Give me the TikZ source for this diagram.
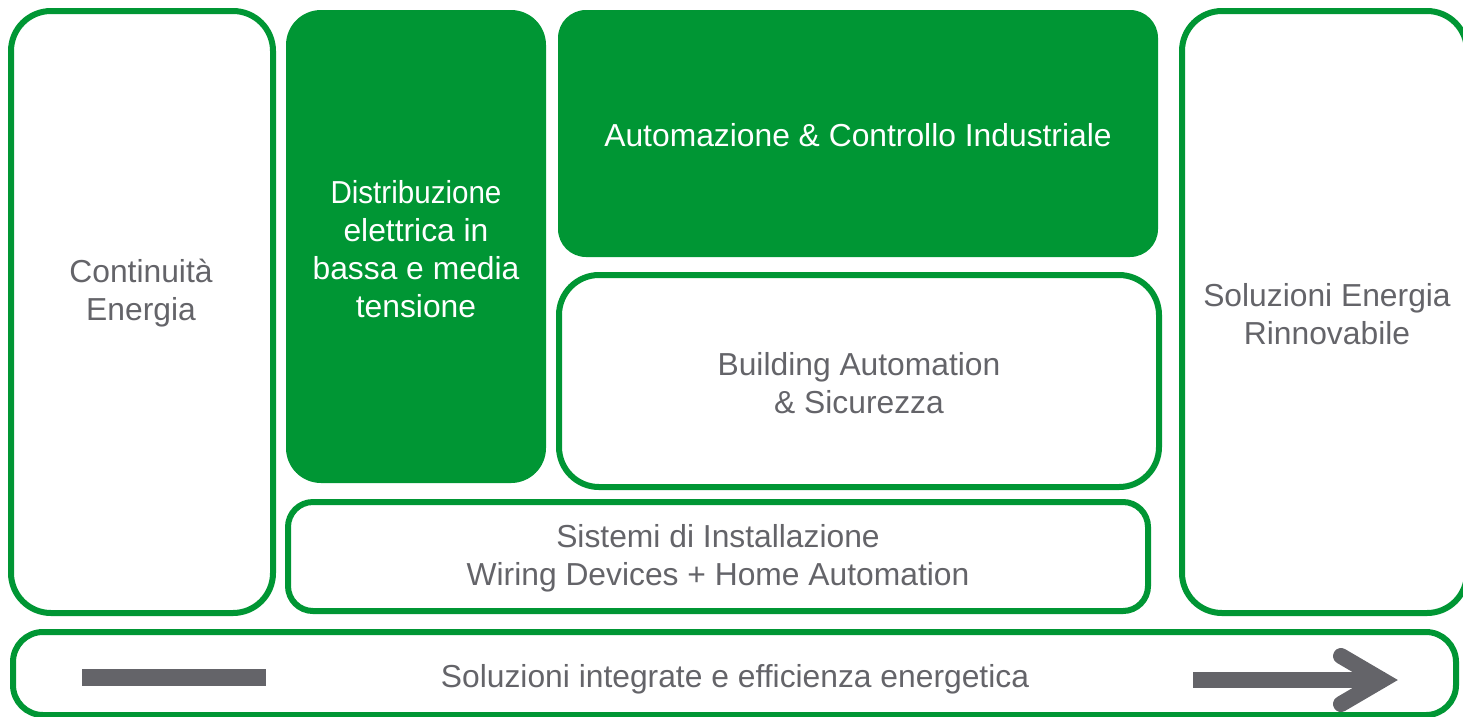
\documentclass[tikz,border=0pt]{standalone}
\usepackage{fontspec}
\setmainfont{Liberation Sans}
\definecolor{sgreen}{RGB}{0,150,52}
\definecolor{sgray}{RGB}{100,100,105}
\begin{document}
\begin{tikzpicture}[x=1pt,y=-1pt,
  txt/.style={font=\fontsize{31.8}{38}\selectfont, align=center, text=sgray},
  outl/.style={draw=sgreen, line width=6pt, rectangle, inner sep=0pt, txt},
  filld/.style={fill=sgreen, rectangle, inner sep=0pt, txt, text=white}]
\useasboundingbox (0,0) rectangle (1463,716);
\node[outl, rounded corners=40pt, minimum width=262pt, minimum height=602pt] (cont) at (142,312) {};
\node[txt] (contt) at (141,293) {Continuità\\Energia};
\node[filld, rounded corners=35pt, minimum width=260pt, minimum height=473pt] (dist) at (416,246.5) {};
\node[txt, text=white] (distt) at (416,249) {\scalebox{0.93}[1]{Distribuzione}\\elettrica in\\bassa e media\\tensione};
\node[filld, rounded corners=28pt, minimum width=600pt, minimum height=247pt] (auto) at (858,133.5) {};
\node[txt, text=white] (autot) at (858,135.5) {Automazione \& Controllo Industriale};
\node[outl, rounded corners=40pt, minimum width=600pt, minimum height=212pt] (build) at (859,381) {};
\node[txt] (buildt) at (859,383) {Building Automation\\\& Sicurezza};
\node[outl, rounded corners=25pt, minimum width=860pt, minimum height=109pt] (sist) at (718,556.5) {};
\node[txt] (sistt) at (718,558) {Sistemi di Installazione\\Wiring Devices + Home Automation};
\node[outl, rounded corners=40pt, minimum width=285pt, minimum height=602pt] (rinn) at (1324.5,312) {};
\node[txt] (rinnt) at (1327,314) {Soluzioni Energia\\Rinnovabile};
\node[outl, rounded corners=30pt, minimum width=1443pt, minimum height=83pt] (bar) at (734.5,673.5) {};
\node[txt] (bart) at (735,679) {Soluzioni integrate e efficienza energetica};
\fill[sgray] (82,669) rectangle (266,686);
\draw[sgray, line width=16pt] (1193,680) -- (1385,680);
\draw[sgray, line width=16pt, line cap=round, line join=miter] (1341,656) -- (1382,680) -- (1341,704);
\end{tikzpicture}
\end{document}
